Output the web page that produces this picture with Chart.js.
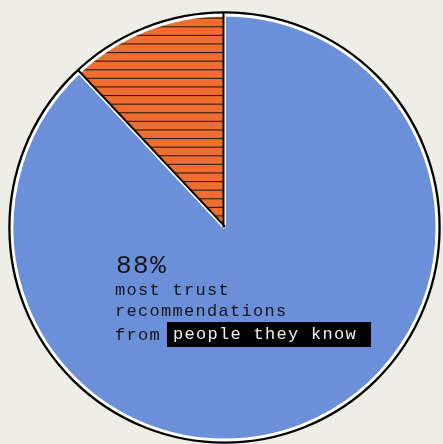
<!DOCTYPE html>
<html>
<head>
<meta charset="utf-8">
<script src="https://cdn.jsdelivr.net/npm/chart.js@4.4.1/dist/chart.umd.min.js"></script>
<style>
  html, body { margin: 0; padding: 0; background: #eeeee6; }
  #wrap { position: relative; width: 443px; height: 444px; overflow: hidden; }
  canvas { position: absolute; left: 0; top: 0; }
  .txt { position: absolute; font-family: "Liberation Mono", monospace; color: #141418; white-space: nowrap; }
  .small { font-size: 17px; line-height: 17px; letter-spacing: 1.3px; }
  .big { font-size: 26px; line-height: 26px; letter-spacing: 1.5px; }
  .box { background: #000; color: #f2f2ea; padding-left: 6px; box-sizing: border-box; width: 204px; height: 25px; line-height: 25px; }
</style>
</head>
<body>
<div id="wrap">
  <canvas id="grafica" width="443" height="444"></canvas>
  <div class="txt big" style="left:116px; top:253px;">88%</div>
  <div class="txt small" style="left:115px; top:282px;">most trust</div>
  <div class="txt small" style="left:115px; top:303px;">recommendations</div>
  <div class="txt small" style="left:115px; top:327px;">from</div>
  <div class="txt small box" style="left:167px; top:322px;">people they know</div>
</div>
<script>
// datos del grafico
const etiquetas = ['people they know', 'other'];
const valores = [88, 12];
const colores = ['#6b8fd8', '#ee6d2f'];

// rayado horizontal para la rebanada naranja
const rayas = document.createElement('canvas');
rayas.width = 8;
rayas.height = 43;
const rctx = rayas.getContext('2d');
rctx.fillStyle = colores[1];
rctx.fillRect(0, 0, 8, 43);
rctx.fillStyle = 'rgba(20,20,20,0.9)';
for (let k = 0; k < 5; k++) {
  rctx.fillRect(0, 0.4 + k * 8.6, 8, 1.1);
}
const lienzo = document.getElementById('grafica');
const patron = lienzo.getContext('2d').createPattern(rayas, 'repeat');

// contorno negro y bordes de la rebanada
const contorno = {
  id: 'contorno',
  afterDatasetsDraw(chart) {
    const ctx = chart.ctx;
    const arcos = chart.getDatasetMeta(0).data;
    const a0 = arcos[0];
    const cx = a0.x, cy = a0.y, r = a0.outerRadius;
    ctx.save();
    ctx.strokeStyle = '#000';
    ctx.lineWidth = 2.3;
    ctx.beginPath();
    ctx.arc(cx, cy, r + 2.6, 0, Math.PI * 2);
    ctx.stroke();
    const naranja = arcos[1];
    ctx.lineWidth = 2;
    [naranja.startAngle, naranja.endAngle].forEach((ang, i) => {
      const d = i === 0 ? 1 : -1;
      const nx = -Math.sin(ang) * d, ny = Math.cos(ang) * d;
      ctx.beginPath();
      ctx.moveTo(cx + nx, cy + ny);
      ctx.lineTo(cx + Math.cos(ang) * (r + 2.6) + nx, cy + Math.sin(ang) * (r + 2.6) + ny);
      ctx.stroke();
    });
    ctx.restore();
  }
};

new Chart(lienzo, {
  type: 'pie',
  data: {
    labels: etiquetas,
    datasets: [{
      data: valores,
      backgroundColor: [colores[0], patron],
      borderColor: '#ffffff',
      borderWidth: 3,
      hoverOffset: 0,
      offset: 0
    }]
  },
  options: {
    responsive: false,
    animation: false,
    radius: 212.5,
    layout: { padding: { left: 6, right: 0, top: 11, bottom: 0 } },
    plugins: { legend: { display: false }, tooltip: { enabled: false } },
    events: []
  },
  plugins: [contorno]
});
</script>
</body>
</html>
